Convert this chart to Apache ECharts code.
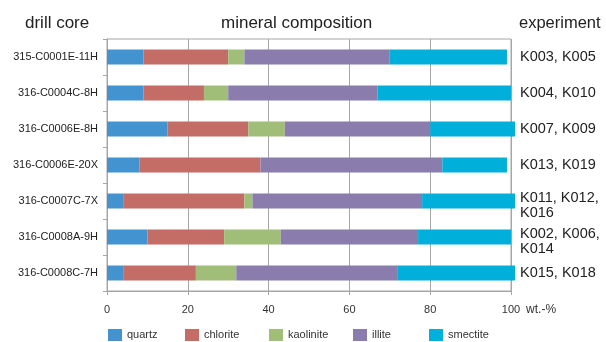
<!DOCTYPE html>
<html>
<head>
<meta charset="utf-8">
<script src="https://cdn.jsdelivr.net/npm/echarts@6/dist/echarts.min.js"></script>
<style>
  html, body { margin: 0; padding: 0; background: #ffffff; }
  #chart { width: 606px; height: 342px; }
</style>
</head>
<body>
<div id="chart"></div>
<script>
// Drill cores (top to bottom) and the experiments run on each
const cores = ['315-C0001E-11H', '316-C0004C-8H', '316-C0006E-8H', '316-C0006E-20X',
               '316-C0007C-7X', '316-C0008A-9H', '316-C0008C-7H'];
const experiments = ['K003, K005', 'K004, K010', 'K007, K009', 'K013, K019',
                     'K011, K012,\nK016', 'K002, K006,\nK014', 'K015, K018'];

// Mineral composition in wt.-%
const quartz    = [9, 9, 15, 8, 4, 10, 4];
const chlorite  = [21, 15, 20, 30, 30, 19, 18];
const kaolinite = [4, 6, 9, 0, 2, 14, 10];
const illite    = [36, 37, 36, 45, 42, 34, 40];
const smectite  = [29, 33, 21, 16, 23, 23, 29];

const xTicks = { min: 0, max: 100, interval: 20 };

const FONT = '"Liberation Sans", Arial, sans-serif';
const GRID_GRAY = '#a6a6a6';

const minerals = [
  { name: 'quartz',    data: quartz,    color: '#4393d0' },
  { name: 'chlorite',  data: chlorite,  color: '#c46d66' },
  { name: 'kaolinite', data: kaolinite, color: '#a1be78' },
  { name: 'illite',    data: illite,    color: '#8a7dae' },
  { name: 'smectite',  data: smectite,  color: '#00b0da' }
];

// Legend entries sit in their own slots along the bottom edge
const legendSlots = [108, 185, 269, 353, 429];

const headerStyle = { fontFamily: FONT, fontSize: 17, fontWeight: 'normal', color: '#222' };

// Two-line experiment lists keep their first line level with the bar
function experimentLabel(value) {
  const lines = value.split('\n');
  if (lines.length === 1) return value;
  return '{first|' + lines[0] + '}\n{rest|' + lines.slice(1).join('\n') + '}';
}

const chart = echarts.init(document.getElementById('chart'), null, { renderer: 'canvas' });

chart.setOption({
  animation: false,
  backgroundColor: '#ffffff',
  title: [
    { text: 'drill core', left: 20, top: 10, textStyle: headerStyle },
    { text: 'mineral composition', left: 216, top: 10, textStyle: headerStyle },
    { text: 'experiment', left: 514, top: 10,
      textStyle: Object.assign({}, headerStyle, { fontSize: 16.5 }) }
  ],
  legend: minerals.map((m, i) => ({
    left: legendSlots[i], top: 329, padding: 0,
    itemWidth: 14, itemHeight: 12,
    icon: 'rect',
    textStyle: { fontFamily: FONT, fontSize: 11, color: '#333' },
    data: [m.name]
  })),
  grid: {
    left: 107, right: 95, top: 39, bottom: 51,
    show: true, borderColor: GRID_GRAY, borderWidth: 1, backgroundColor: 'transparent'
  },
  xAxis: {
    type: 'value',
    min: xTicks.min, max: xTicks.max, interval: xTicks.interval,
    name: 'wt.-%',
    nameLocation: 'end',
    nameGap: 11,
    nameTextStyle: { fontFamily: FONT, fontSize: 12, color: '#333',
                     verticalAlign: 'top', padding: [13, 0, 0, 0] },
    axisLine: { show: true, lineStyle: { color: GRID_GRAY } },
    axisTick: { show: true, length: 4, lineStyle: { color: GRID_GRAY } },
    axisLabel: { fontFamily: FONT, fontSize: 11, color: '#333', margin: 13 },
    splitLine: { show: true, lineStyle: { color: GRID_GRAY } }
  },
  yAxis: [
    {
      type: 'category',
      data: cores,
      inverse: true,
      axisLine: { show: true, lineStyle: { color: GRID_GRAY } },
      axisTick: { show: true, length: 4, lineStyle: { color: GRID_GRAY } },
      axisLabel: { fontFamily: FONT, fontSize: 11, color: '#222', margin: 9 }
    },
    {
      type: 'category',
      data: experiments,
      inverse: true,
      position: 'right',
      axisLine: { show: false },
      axisTick: { show: false },
      axisLabel: {
        fontFamily: FONT, fontSize: 14.5, color: '#222', margin: 9,
        align: 'left', lineHeight: 15,
        formatter: experimentLabel,
        rich: {
          first: { fontFamily: FONT, fontSize: 14.5, color: '#222', lineHeight: 23,
                   verticalAlign: 'bottom' },
          rest:  { fontFamily: FONT, fontSize: 14.5, color: '#222', lineHeight: 15 }
        }
      }
    }
  ],
  series: minerals.map(m => ({
    name: m.name,
    type: 'bar',
    stack: 'composition',
    yAxisIndex: 0,
    barWidth: 15,
    clip: false,
    itemStyle: { color: m.color },
    data: m.data
  }))
});
</script>
</body>
</html>
